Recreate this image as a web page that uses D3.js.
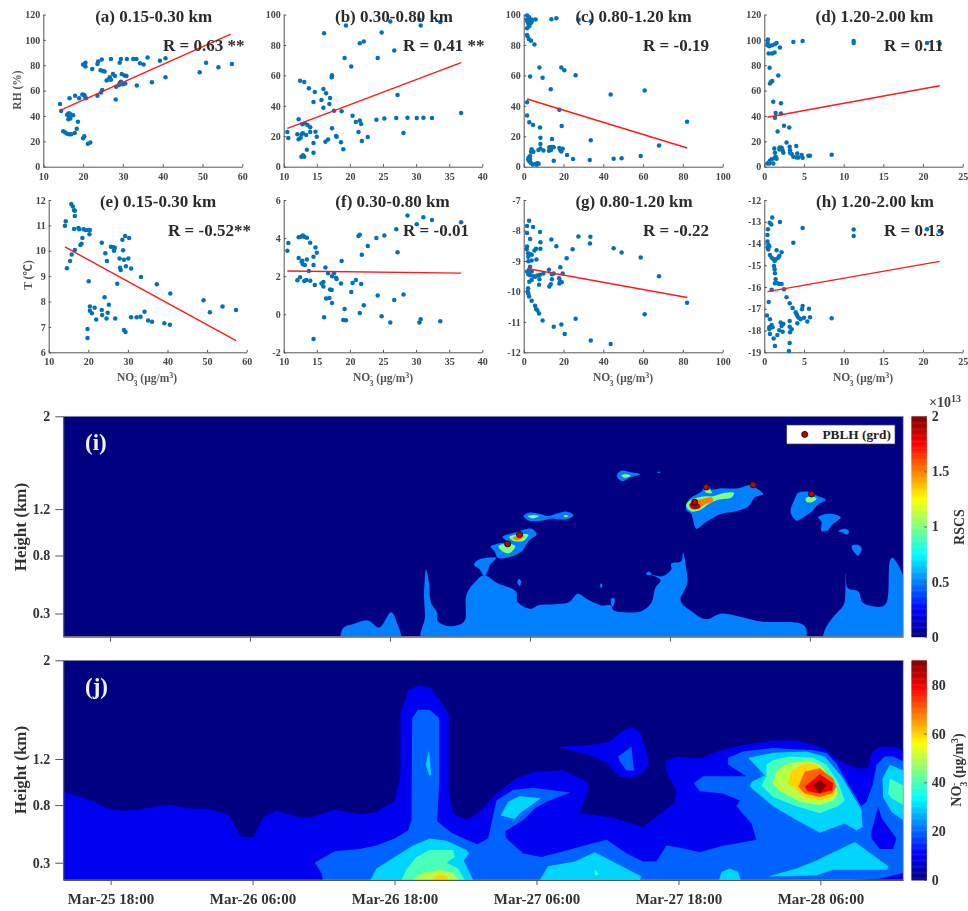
<!DOCTYPE html>
<html>
<head>
<meta charset="utf-8">
<script src="https://cdn.jsdelivr.net/npm/d3@7"></script>
<style>
body { margin: 0; background: #fff; }
svg { display: block; filter: blur(0.5px); }
text { font-family: "Liberation Serif", "Noto Sans CJK SC", serif; font-weight: bold; }
.axis text { font-size: 10px; fill: #444; }
.axis path, .axis line { stroke: #555; stroke-width: 1; }
.big text { font-size: 14px; fill: #333; }
.wide text { font-size: 15px; fill: #333; }
.title { font-size: 17px; fill: #2b2b2b; }
.small-label { font-size: 11.5px; fill: #555; }
</style>
</head>
<body>
<div class="canvas"></div>
<script>
// ---- scatter data: [NO3, value] ----
const pointsA = [[14.2,49.5],[14.5,44],[15,28],[15.5,27],[16,26],[16.5,25.5],[17,25.5],[17.9,26.5],[18.4,30],[18.7,35.5],[16,41],[16.3,42],[16.6,42],[17,41],[17.5,40.5],[16.3,37.5],[16.8,38],[16.5,39.5],[16.6,54],[18,56],[19,54],[19.8,57],[20.3,56.5],[20.5,55],[20.7,54],[20,22.5],[20.3,24],[21.2,18],[21.8,19],[20,80.5],[20.3,80],[20.6,82],[20.6,79],[22.3,77],[23.6,81],[23.8,83],[24.7,84.5],[24.4,76],[25,75.5],[25.4,75],[23.6,56],[24.5,58.5],[24.8,60.5],[25.9,68],[26.4,69],[26.7,70.5],[27,68.5],[27,85],[27.5,73],[28,71.5],[28.2,53],[28.3,63],[29,64.5],[29.2,66],[29.2,82],[29.5,85],[29.5,67],[29.7,73],[30,65],[30.4,72],[30.6,65.5],[30.9,71.5],[31,85],[32.6,85],[33.4,85],[33.5,64],[34.3,81.5],[35.2,80.5],[36.2,86],[37.3,66.5],[39.3,83.5],[40.7,85.5],[40.7,70.5],[49.3,74.5],[50.9,82],[54,78.5],[57.4,81]];
const pointsB = [[10.55,22.8],[10.7,18.9],[12.06,21.3],[12.26,31.1],[12.26,18],[12.47,56.4],[12.57,19],[12.7,21.3],[12.8,27.9],[12.67,6.6],[12.9,21.9],[12.9,7.5],[13.1,55.7],[13.1,6.6],[13.2,28.5],[13.4,20.8],[13.5,11.2],[13.6,27.4],[13.8,51.5],[14,25.9],[14,22.8],[14.5,15.6],[14.5,42.5],[14.5,9.2],[14.7,49],[14.8,23],[15,19.7],[15.7,43.9],[16,51.1],[16,38.8],[16.1,87.7],[16.3,16.4],[16.4,48.2],[16.7,17.8],[16.9,41.2],[17,45.2],[17.25,58.8],[17.3,60.1],[17.3,25.2],[17.6,36.8],[17.9,20.2],[18,19.7],[18.65,16],[18.75,36.4],[19,11.4],[19.2,71.5],[19.4,92.8],[20.2,65.8],[20.4,33.5],[20.9,29.4],[21.3,22.8],[21.5,30.3],[21.5,81.1],[21.7,28],[21.8,16.9],[22.1,82.2],[22.7,19.5],[24,30.9],[24.2,71.5],[24.8,88.2],[25.2,31.6],[26.1,95.4],[26.7,76.3],[27,32],[27.2,47.1],[28.1,22.1],[28.7,32.2],[30.1,32],[30.5,96.5],[30.7,92.8],[31.1,32.2],[32.4,32],[33.65,95],[36.8,35.3]];
const pointsC = [[1.7,99.3],[2.7,98.2],[1.5,96.5],[1.8,95.4],[3.2,96],[4.2,96.5],[4,95.2],[2.3,93.9],[3.5,94.3],[1.7,91],[2.8,92.5],[6,96.7],[13.9,96.9],[16.4,97.6],[27.6,96.5],[33.7,95.6],[1.7,86.6],[2,85.5],[2.7,83.8],[3.7,82.7],[5.4,80.3],[7.9,65.1],[18.9,65.1],[20.4,63.4],[3.2,59.2],[9.5,58.5],[26.1,60.1],[13.6,50.9],[43.7,47.4],[60.8,50],[1.7,42.3],[17.9,37.5],[1.7,33.6],[2.8,29.2],[4.7,27.4],[8.2,25.7],[19.1,26.8],[82.1,29.6],[8.4,19.1],[14.2,18.2],[33.7,17.3],[68,14],[8.4,14.9],[4,11.4],[4.9,9.9],[3.7,9.9],[7.4,11],[8.4,12],[9.9,10.7],[12.7,10.5],[12.9,12.7],[14.2,12.9],[13.7,11],[15.1,12.7],[17.9,12.3],[18.3,11],[18.9,10],[19.6,11.8],[21.8,7.7],[24.8,5],[33.2,4.4],[45.2,5.3],[49.2,5.5],[58.8,7],[15.1,3.9],[3.2,7],[2.5,6.1],[2.3,4.8],[2.8,3.5],[3.5,2.6],[4.5,1.5],[5.9,1.8],[6.9,2.2],[7.5,2],[6.5,1.3],[3.2,4.8]];
const pointsD = [[0.46,100.3],[0.42,97.6],[0.4,95.8],[0.63,95],[0.97,95.8],[1.34,96.6],[1.55,97.6],[0.55,89.2],[0.97,89.2],[1.3,90],[1.97,94],[3.66,98.4],[4.83,99.2],[11.26,99.2],[11.26,97.6],[20.5,97.6],[22.1,97],[0.67,78],[0.88,67],[0.71,65.6],[1,67.5],[1.76,72],[1.13,51.2],[2.1,50],[1.43,42.3],[2.1,42],[1.34,38.6],[2.48,32.3],[3.15,31],[1.68,27.8],[2.8,19],[1.26,14.4],[1.93,15.2],[2.18,15],[3.2,15.7],[4.03,16.3],[1.34,11],[1.9,13.6],[2.3,13],[2.4,11],[3.24,13],[3.24,11],[3.45,10],[4.15,10.5],[4.7,9.2],[5.55,8.7],[5.76,8.7],[8.49,9.4],[3.66,7.9],[4.08,7.3],[4.3,7.3],[4.83,7],[0.38,2.6],[0.59,3.4],[0.71,4.7],[0.92,5.8],[1.13,2.6],[1.26,6.6],[1.55,6.3],[1.43,7.9],[0.63,2.6]];
const pointsE = [[14.1,10.99],[14.3,11.16],[14.6,9.31],[15.4,9.6],[15.7,11.84],[15.8,9.85],[16.1,11.74],[16.4,11.6],[16.6,11.58],[16.6,11.37],[16.4,10.86],[16.6,10.03],[17.5,10.9],[17.7,10.85],[18,10.23],[18.3,10.28],[18.5,10.5],[18.8,10.85],[19.4,10.82],[20.1,10.82],[19.8,6.92],[19.8,6.56],[20.1,8.8],[20.4,10.82],[20.3,10.65],[20.4,7.8],[20.4,7.64],[20.9,7.54],[21.6,7.76],[22,7.29],[23.4,10.32],[23.4,7.67],[23.5,7.47],[24.1,8.17],[24.3,9.9],[24.6,7.33],[24.7,9.6],[24.9,7.56],[25.2,7.87],[25.7,10.16],[26.3,10.14],[26.7,10.12],[26.5,10],[26.8,7.33],[27.3,8.7],[27.9,9.7],[28,9.33],[28.2,9.24],[28.6,10.43],[28.8,10.02],[29,9.65],[29,6.88],[29.3,10.58],[29.4,6.8],[29.5,9.39],[30.1,9.7],[30.3,10.5],[30.8,9.3],[30.8,7.38],[32.2,7.38],[33.2,7.4],[33.3,8.97],[34.2,7.6],[35.1,7.25],[36.1,7.2],[37.3,8.68],[39.2,7.14],[40.6,7.09],[40.7,8.32],[49.1,8.05],[50.7,7.58],[53.9,7.8],[57.3,7.67]];
const pointsF = [[10.55,3.34],[10.7,3.74],[12.06,1.78],[12.26,4.04],[12.26,2.95],[12.47,1.94],[12.57,4.07],[12.7,2.76],[12.9,4.13],[12.8,2.81],[12.9,2.62],[13.1,4.07],[13.1,1.74],[13.2,2.58],[13.4,1.8],[13.5,2.88],[13.5,4.02],[13.8,2.27],[14,3.76],[14,1.76],[14.5,3.02],[14.5,2.58],[14.5,-1.3],[14.7,1.53],[14.8,3.51],[15,3.23],[15.7,1.62],[16,1.69],[16,1.45],[16.1,-0.16],[16.3,2.46],[16.4,0.83],[16.7,2.15],[16.9,0.85],[17,1.3],[17.25,1.27],[17.3,0.59],[17.3,2],[17.6,2.15],[17.9,1.92],[18,1.85],[18.65,1.62],[18.75,2.8],[19,-0.3],[19.2,0.27],[19.4,-0.32],[20.2,1.17],[20.4,1.64],[20.9,1.8],[21.3,4.11],[21.5,4.18],[21.5,0.06],[21.7,1.59],[21.8,3.13],[22.1,0.47],[22.7,3.58],[24,4],[24.2,0.99],[24.8,-0.1],[25.2,4.13],[26.1,-0.43],[26.7,0.75],[27,4.46],[27.2,3.25],[28.1,1.03],[28.7,5.19],[30.1,4.72],[30.5,-0.43],[30.7,-0.27],[31.1,5.09],[32.4,4.95],[33.65,-0.37],[36.8,4.83]];
const pointsG = [[2.7,-7.68],[1.7,-7.85],[4.7,-7.89],[1.7,-8.08],[8.2,-8.05],[3.2,-8.28],[13.9,-8.3],[27.5,-8.2],[33.5,-8.21],[33.3,-8.43],[8.4,-8.39],[1.7,-8.53],[16.4,-8.52],[1.5,-8.62],[6.2,-8.6],[8.4,-8.6],[5.4,-8.66],[24.6,-8.62],[45.2,-8.58],[49.2,-8.72],[2.2,-8.75],[3.2,-8.78],[4,-8.8],[2.3,-8.86],[21.6,-8.91],[58.8,-8.89],[6.4,-8.95],[2.3,-9.01],[4,-8.99],[3.2,-9.19],[18.4,-9.21],[12.7,-9.29],[1.7,-9.35],[2.8,-9.33],[4,-9.35],[2.3,-9.44],[9.9,-9.41],[8.2,-9.45],[6.9,-9.48],[4.9,-9.5],[3.2,-9.47],[5.7,-9.52],[14.2,-9.44],[19.6,-9.41],[15.1,-9.41],[14.2,-9.6],[17.8,-9.57],[7.9,-9.6],[4,-9.63],[2.8,-9.68],[18.3,-9.67],[17.9,-9.74],[19.1,-9.7],[7.7,-9.78],[68,-9.5],[13.6,-9.77],[12.9,-9.84],[2.2,-9.9],[2,-10],[2.3,-10.07],[2.7,-10.17],[4,-10.31],[5.7,-10.47],[6.2,-10.58],[6.9,-10.63],[7.7,-10.73],[9.5,-10.96],[82.1,-10.37],[60.8,-10.75],[26.1,-10.9],[15.1,-11.16],[18.9,-11.09],[20.6,-11.4],[33.7,-11.61],[43.7,-11.73]];
const pointsH = [[1,-12.81],[1.97,-13.01],[0.67,-13.04],[0.88,-13.13],[0.46,-13.35],[4.83,-13.29],[11.26,-13.36],[11.26,-13.65],[20.5,-13.35],[22.1,-13.44],[0.4,-13.61],[0.4,-13.91],[3.66,-13.96],[0.55,-14.07],[0.42,-14.17],[0.63,-14.14],[0.5,-14.27],[1.55,-14.31],[2.18,-14.4],[0.71,-14.53],[0.92,-14.65],[1.13,-14.71],[1.43,-14.73],[1.3,-14.8],[1.89,-14.57],[1.76,-14.65],[1.22,-15.03],[1.3,-15.18],[1.34,-15.37],[1.43,-15.64],[1.34,-15.83],[1.68,-15.83],[1.89,-15.86],[2.18,-15.86],[0.92,-16.13],[2.48,-16.1],[0.55,-16.69],[2.8,-16.47],[3.2,-16.75],[3.57,-16.96],[4.83,-16.87],[4.75,-17.02],[5.63,-17],[3.95,-17.16],[4.08,-17.25],[4.2,-17.36],[0.34,-17.31],[4.37,-17.42],[4.58,-17.48],[5,-17.41],[5.76,-17.39],[8.49,-17.44],[0.71,-17.48],[4.16,-17.67],[5.42,-17.59],[3.2,-17.56],[0.92,-17.74],[2.06,-17.63],[2.4,-17.7],[0.63,-17.85],[1.05,-17.85],[2.18,-17.79],[0.63,-17.94],[1.89,-17.99],[2.31,-18.05],[3.2,-17.82],[3.45,-17.94],[3.24,-18.08],[0.71,-18.16],[1.64,-18.2],[1.18,-18.36],[1.34,-18.71],[3.2,-18.57],[3.1,-18.94]];

// red fit lines, end points
const fitA = [[14.2,44.4],[57.1,104.5]];
const fitB = [[10.55,25.2],[36.8,68.4]];
const fitC = [[1.7,44.5],[82.2,12.3]];
const fitD = [[0.4,39],[22.1,63.8]];
const fitE = [[14.1,10.15],[57.3,6.46]];
const fitF = [[10.55,2.27],[36.8,2.16]];
const fitG = [[1.7,-9.25],[82.2,-10.2]];
const fitH = [[0.4,-16.21],[22.1,-14.82]];

const titles = ['(a) 0.15-0.30 km','(b) 0.30-0.80 km','(c) 0.80-1.20 km','(d) 1.20-2.00 km','(e) 0.15-0.30 km','(f) 0.30-0.80 km','(g) 0.80-1.20 km','(h) 1.20-2.00 km'];
const rLabels = ['R = 0.63 **','R = 0.41 **','R = -0.19','R = 0.11','R = -0.52**','R = -0.01','R = -0.22','R = 0.13'];

// ---- contour outlines, [hours after Mar-25 14:00, height km] ----
const rscs05 = [
  [[23.9,.05],[23.9,.16],[24.2,.19],[24.9,.21],[26.1,.24],[27.1,.18],[28.1,.31],[28.6,.22],[28.9,.05]],
  [[30.8,.05],[31,.27],[30.93,.45],[31.1,.68],[31.36,.56],[31.5,.4],[32.07,.3],[32.07,.24],[33.08,.19],[34.36,.23],[34.56,.46],[35.37,.58],[36.08,.63],[37.23,.56],[38.8,.49],[38.95,.4],[40.09,.34],[40.66,.37],[42.1,.38],[43.38,.4],[44.1,.47],[44.96,.42],[46.1,.37],[46.96,.37],[47.14,.33],[48.11,.31],[49.54,.32],[50.4,.39],[50.75,.52],[51.2,.59],[49.97,.65],[51.26,.62],[52.12,.68],[52.12,.73],[52.98,.75],[53.12,.83],[53.41,.68],[53.49,.56],[52.92,.41],[53.84,.32],[55.12,.25],[56.41,.3],[58.13,.27],[59.85,.23],[63,.22],[63.57,.19],[63.72,.14],[63.49,.05]],
  [[65.2,.05],[65.29,.16],[66,.27],[66.87,.37],[67.01,.42],[67.07,.65],[67.24,.52],[68.15,.49],[68.58,.39],[70.16,.36],[70.59,.4],[70.87,.76],[71.07,.78],[72.3,.54],[72.3,.05]],
  [[35.2,.72],[35.5,.76],[37.1,.78],[36.6,.72],[36.2,.63],[36,.63],[35.7,.68]],
  [[36.65,.88],[37.17,.9],[37.97,.92],[37.66,.96],[38.8,1],[40.15,1.03],[40.58,.98],[39.95,.93],[39.23,.83],[38.37,.79],[37.23,.78],[37,.83]],
  [[39.46,1.14],[39.95,1.17],[40.81,1.16],[41.52,1.14],[42.24,1.16],[43.1,1.18],[43.73,1.15],[43.38,1.12],[42.53,1.11],[41.95,1.12],[40.95,1.1],[39.95,1.1]],
  [[47.45,1.49],[47.82,1.53],[48.54,1.52],[49.46,1.5],[48.54,1.47],[47.97,1.44],[47.6,1.46]],
  [[39.09,.6],[39.26,.57],[39.09,.54],[38.92,.57]],
  [[46.1,.56],[46.22,.54],[46.1,.52],[46.02,.54]],
  [[49.97,.65],[50.26,.66],[50.4,.64],[50.12,.63]],
  [[50.91,1.52],[51.2,1.52],[51.03,1.51]],
  [[46.96,.43],[47.25,.43],[47.14,.36],[47.05,.36]],
  [[53.41,1.24],[53.69,1.29],[54.55,1.34],[54.78,1.36],[54.9,1.41],[55.41,1.4],[55.55,1.37],[56.41,1.38],[57.84,1.38],[58.99,1.41],[59.42,1.38],[59.99,1.33],[59.28,1.3],[58.7,1.22],[57.56,1.18],[56.41,1.16],[55.12,1.09],[54.27,1.03],[53.98,1.11],[53.84,1.16],[53.41,1.19]],
  [[62.34,1.19],[62.71,1.29],[63,1.34],[63.86,1.35],[64.72,1.31],[65.35,1.28],[64.72,1.24],[64.15,1.18],[63.29,1.12],[62.86,1.1],[62.43,1.15]],
  [[64.72,1.13],[65.58,1.16],[66.64,1.13],[65.86,1.06],[65.58,1.02],[65,1.01],[65,1.09]],
  [[66.44,1.01],[67.01,1.03],[67.35,1.01],[67.21,.98],[66.72,1]],
  [[67.58,.88],[68.15,.89],[68.44,.86],[68.15,.8],[67.87,.82]]
];
const rscs10 = [
  [[37.31,.88],[37.8,.9],[38.37,.9],[38.75,.88],[38.23,.82],[37.74,.83]],
  [[38.23,.96],[38.95,.98],[39.86,.98],[39.52,.93],[38.95,.92],[38.52,.93]],
  [[39.81,1.14],[40.23,1.15],[40.81,1.14],[40.23,1.12]],
  [[42.87,1.14],[43.1,1.15],[43.3,1.14],[43.1,1.13]],
  [[47.82,1.49],[48.17,1.5],[48.62,1.49],[48.17,1.47]],
  [[53.41,1.24],[53.84,1.28],[54.98,1.31],[55.7,1.31],[56.7,1.34],[57.5,1.34],[57.27,1.3],[56.13,1.28],[55.27,1.24],[54.55,1.19],[53.84,1.18],[53.49,1.21]],
  [[54.98,1.37],[55.41,1.37],[55.61,1.34],[55.12,1.34]],
  [[63.63,1.29],[64.09,1.31],[64.57,1.29],[64.15,1.26],[63.77,1.26]]
];
const rscs15 = [
  [[38.52,.95],[38.95,.97],[39.52,.97],[39.37,.95],[38.95,.93]],
  [[53.64,1.24],[53.98,1.27],[54.84,1.29],[55.61,1.3],[55.7,1.27],[54.98,1.24],[54.41,1.2],[53.84,1.2]]
];
const rscs19 = [
  [[53.69,1.24],[53.98,1.26],[54.41,1.25],[54.64,1.22],[54.27,1.2],[53.84,1.21]]
];
const pblhHours = [38.09,39.11,54.12,55.12,59.13,64.14];
const pblhHeight = [.9,.98,1.26,1.39,1.41,1.33];

const no10 = [
  [[0,.92],[1.39,.87],[2.8,.82],[3.93,.76],[5.06,.75],[6.46,.76],[7.87,.79],[9,.8],[10.69,.77],[12.1,.77],[13.23,.74],[14.07,.7],[14.97,.53],[16.04,.52],[16.89,.69],[18,.75],[20,.69],[20.83,.69],[22.95,.76],[25.06,.72],[26.47,.74],[28.02,.84],[28.5,1.05],[28.5,1.57],[29.15,1.76],[30.13,1.8],[31.12,1.77],[31.82,1.68],[32.58,1.56],[32.58,.93],[32.95,.73],[34.08,.67],[35.06,.73],[36.62,.9],[38.31,1.03],[39.86,1.09],[42.25,1.1],[44.37,1],[44.23,.9],[43.66,.73],[46.48,.69],[49.02,.61],[51.69,.82],[51.83,.92],[50.99,1.08],[50.93,1.18],[51.83,1.22],[52.96,1.21],[54.09,1.21],[54.93,1.25],[57.19,1.31],[60.01,1.35],[61.98,1.35],[64.23,1.29],[65.64,1.18],[67.05,1.12],[68.04,1.12],[68.32,1.25],[69.02,1.3],[70.15,1.3],[71,1.27],[71,.15],[0,.15]],
  [[41.75,1.3],[44.23,1.31],[46.2,1.34],[47.18,1.42],[48.03,1.46],[48.73,1.42],[49.3,1.27],[49.52,1.16],[49.02,1.08],[48.03,1.03],[46.9,1.05],[46.06,1.16],[44.51,1.23]]
];
const no20 = [
  [[21.96,.15],[21.82,.21],[21.26,.3],[22.1,.35],[22.95,.4],[25.06,.42],[26.47,.45],[28.02,.51],[29.15,.58],[29.43,.67],[29.49,1.49],[29.49,1.53],[29.99,1.6],[30.98,1.6],[31.77,1.53],[31.77,.99],[31.6,.66],[32.81,.56],[34.08,.5],[34.98,.46],[35.91,.51],[36.62,.84],[38.03,.93],[39.72,.95],[42.82,.91],[40.85,.83],[39.86,.77],[38.87,.67],[37.32,.57],[37.46,.51],[38.87,.38],[40.42,.35],[43.38,.43],[45.92,.5],[47.61,.38],[49.02,.31],[50.14,.31],[50.99,.45],[52.12,.43],[53.81,.39],[55.5,.44],[58.6,.5],[58.17,.64],[56.91,.79],[57.19,.84],[55.78,.9],[53.81,.92],[53.3,.99],[54.09,1.05],[57.75,1.05],[56.2,1.15],[56.2,1.21],[57.47,1.26],[60,1.29],[63.39,1.27],[64.51,1.25],[65.36,1.16],[66.06,1.03],[67.47,.79],[67.9,.83],[68.46,.99],[68.74,1.15],[69.44,1.22],[70.15,1.22],[71,1.18],[71,.21],[69.02,.16],[66.2,.15]],
  [[46.9,1.22],[48.03,1.3],[48.17,1.16],[48.26,1.1],[47.61,1.1],[47.04,1.18]]
];
const no10Patch = [
  [[68.32,.57],[68.88,.79],[69.16,.69],[70.43,.51],[70.15,.42],[69.02,.42],[68.32,.51]]
];
const no30 = [
  [[25.96,.15],[26.47,.25],[27.88,.34],[29.57,.45],[30.98,.51],[32.39,.49],[34.08,.41],[34.3,.38],[33.85,.32],[34.64,.15]],
  [[30.64,1.15],[30.92,1.27],[31.09,1.06],[30.92,1.06]],
  [[36.96,.71],[37.61,.83],[38.59,.88],[40.37,.86],[38.59,.73],[38.17,.68]],
  [[40.28,.15],[40.99,.27],[43.24,.31],[44.93,.39],[48.88,.18],[48.73,.15]],
  [[55.44,.15],[55.64,.22],[56.34,.25],[57.05,.22],[57.27,.15]],
  [[59.58,.18],[61.98,.25],[63.67,.32],[66.91,.48],[69.73,.27],[69.65,.24],[65.08,.24],[63.67,.19]],
  [[57.89,1.21],[60,1.25],[62.82,1.26],[64.37,1.22],[65.78,1.05],[67.47,.76],[67.56,.61],[67.05,.58],[66.06,.64],[63.95,.56],[61.98,.67],[60,.79],[58.03,.96],[58.17,1],[59.3,1.06]],
  [[71,1.1],[69.87,1.15],[69.25,1.03],[69.3,.87],[70.01,.74],[71,.67]]
];
const no40 = [
  [[28.58,.15],[29,.24],[29.85,.35],[30.98,.41],[32.95,.41],[33.09,.35],[32.39,.3],[33.37,.25],[33.94,.15]],
  [[71,.97],[69.87,1.03],[69.73,.9],[70.01,.86],[71,.8]],
  [[44.93,.24],[45.3,.2],[44.93,.19]],
  [[59.44,1.05],[59.44,1.15],[60,1.19],[61.41,1.22],[63.39,1.21],[64.51,1.15],[65.5,1],[66.06,.84],[65.5,.79],[63.95,.73],[61.98,.79],[60,.87],[59.02,.97]]
];
const no50 = [
  [[29.51,.15],[30.41,.21],[31.82,.24],[32.95,.21],[33.46,.15]],
  [[59.95,.99],[60.29,1.09],[60.99,1.15],[62.82,1.19],[63.95,1.15],[64.94,1.03],[65.5,.9],[65.08,.84],[63.95,.8],[62.26,.83],[60.57,.92]]
];
const no60 = [
  [[31.12,.15],[31.68,.2],[32.39,.19],[32.53,.15]],
  [[61.27,.99],[61.56,1.1],[62.68,1.16],[63.67,1.15],[64.65,1.06],[65.36,.93],[65.08,.87],[63.95,.84],[62.68,.87]]
];
const no70 = [[[62.12,.96],[62.68,1.09],[63.95,1.12],[65.08,1.03],[65.36,.96],[64.94,.9],[63.95,.87],[62.68,.9]]];
const no80 = [[[62.68,.96],[63.95,1.07],[65.08,.99],[65.02,.93],[63.95,.9],[62.96,.92]]];
const no88 = [[[63.39,.97],[63.95,1.02],[64.51,.97],[63.95,.9]]];

const heightTicks = [0.3,0.8,1.2,2];
const rscsTicks = [0,0.5,1,1.5,2];
const noTicks = [0,20,40,60,80];
const tickDates = ['2019-03-25T18:00Z','2019-03-26T06:00Z','2019-03-26T18:00Z','2019-03-27T06:00Z','2019-03-27T18:00Z','2019-03-28T06:00Z'].map(d => new Date(d));
const startDate = new Date('2019-03-25T14:00Z');

// ---- page ----
const svg = d3.select('.canvas').append('svg')
    .attr('width',968)
    .attr('height',911);

const BLUE = '#0072bd';
const RED = '#ff1a1a';

// matlab jet
const jet = (t) => {
  const c = v => Math.round(255 * Math.max(0, Math.min(1, v)));
  return `rgb(${c(Math.min(4*t-1.5,-4*t+4.5))},${c(Math.min(4*t-0.5,-4*t+3.5))},${c(Math.min(4*t+0.5,-4*t+2.5))})`;
};
const toDate = h => new Date(+startDate + h * 3600000);

// NO3- (ug/m3) with stacked sub and superscript
const no3Label = (sel) => {
  sel.append('tspan').text('NO');
  sel.append('tspan').attr('font-size','0.62em').attr('dy','-0.42em').text('-');
  sel.append('tspan').attr('font-size','0.7em').attr('dx','-0.38em').attr('dy','0.95em').text('3');
  sel.append('tspan').attr('dy','-0.28em').text(' (μg/m');
  sel.append('tspan').attr('font-size','0.7em').attr('dy','-0.5em').text('3');
  sel.append('tspan').attr('dy','0.35em').text(')');
};

// ---- scatter panels ----
const colX = [[283.7,482.3],[523.7,722.7],[764.3,962.7]];
const scatterPanels = [
  {points:pointsA, fit:fitA, xd:[10,60], xt:d3.range(10,61,10), yd:[0,120], yt:d3.range(0,121,20), xr:[43.3,242.3], yr:[166.7,14.5], tx:153.7, ty:22, rx:163, ry:51},
  {points:pointsB, fit:fitB, xd:[10,40], xt:d3.range(10,41,5), yd:[0,100], yt:d3.range(0,101,20), xr:colX[0], yr:[166.7,14.5], tx:394, ty:22, rx:403, ry:51},
  {points:pointsC, fit:fitC, xd:[0,100], xt:d3.range(0,101,20), yd:[0,100], yt:d3.range(0,101,20), xr:colX[1], yr:[166.7,14.5], tx:633.5, ty:22, rx:643, ry:51},
  {points:pointsD, fit:fitD, xd:[0,25], xt:d3.range(0,26,5), yd:[0,120], yt:d3.range(0,121,20), xr:colX[2], yr:[166.7,14.5], tx:874.5, ty:22, rx:884, ry:51},
  {points:pointsE, fit:fitE, xd:[10,60], xt:d3.range(10,61,10), yd:[6,12], yt:d3.range(6,13,1), xr:[48.7,246.7], yr:[352.3,200], tx:158, ty:207, rx:168, ry:236},
  {points:pointsF, fit:fitF, xd:[10,40], xt:d3.range(10,41,5), yd:[-2,6], yt:d3.range(-2,7,2), xr:colX[0], yr:[352.3,200], tx:392.5, ty:207, rx:403, ry:236},
  {points:pointsG, fit:fitG, xd:[0,100], xt:d3.range(0,101,20), yd:[-12,-7], yt:d3.range(-12,-6,1), xr:colX[1], yr:[352.3,200], tx:634, ty:207, rx:643, ry:236},
  {points:pointsH, fit:fitH, xd:[0,25], xt:d3.range(0,26,5), yd:[-19,-12], yt:d3.range(-19,-11,1), xr:colX[2], yr:[352.3,200], tx:875, ty:207, rx:884, ry:236}
];

scatterPanels.forEach((p,i) => {
  const x = d3.scaleLinear().domain(p.xd).range(p.xr);
  const y = d3.scaleLinear().domain(p.yd).range(p.yr);
  const g = svg.append('g');

  g.append('g').attr('class','axis')
      .attr('transform',`translate(0,${p.yr[0]})`)
      .call(d3.axisBottom(x).tickValues(p.xt).tickSize(-2.5).tickSizeOuter(0).tickPadding(6).tickFormat(d => String(d)));
  g.append('g').attr('class','axis')
      .attr('transform',`translate(${p.xr[0]},0)`)
      .call(d3.axisLeft(y).tickValues(p.yt).tickSize(-2.5).tickSizeOuter(0).tickPadding(3).tickFormat(d => String(d)));

  g.selectAll('circle').data(p.points).join('circle')
      .attr('cx',d => x(d[0]))
      .attr('cy',d => y(d[1]))
      .attr('r',2.25)
      .attr('fill',BLUE);

  g.append('path')
      .attr('d',d3.line().x(d => x(d[0])).y(d => y(d[1]))(p.fit))
      .attr('stroke',RED)
      .attr('stroke-width',1.4)
      .attr('fill','none');

  g.append('text').attr('class','title').attr('x',p.tx).attr('y',p.ty).attr('text-anchor','middle').text(titles[i]);
  g.append('text').attr('class','title').attr('x',p.rx).attr('y',p.ry).text(rLabels[i]);
});

svg.append('text').attr('class','small-label').attr('transform','translate(21,90) rotate(-90)').attr('text-anchor','middle').text('RH (%)');
svg.append('text').attr('class','small-label').attr('transform','translate(32,275) rotate(-90)').attr('text-anchor','middle').text('T (℃)');
[147,383,623,863].forEach(cx => {
  svg.append('text').attr('class','small-label').attr('x',cx).attr('y',381).attr('text-anchor','middle').call(no3Label);
});

// ---- contour panels ----
const drawContour = (o) => {
  const g = svg.append('g');
  const x = d3.scaleUtc().domain([startDate,toDate(o.hours)]).range([63.3,903.2]);
  const y = d3.scaleLinear().domain(o.yd).range(o.yr);
  const w = 903.2 - 63.3;
  const top = o.yr[o.yr.length-1], bottom = o.yr[0];

  g.append('clipPath').attr('id',o.id).append('rect').attr('x',63.3).attr('y',top).attr('width',w).attr('height',bottom-top);
  g.append('rect').attr('x',63.3).attr('y',top).attr('width',w).attr('height',bottom-top).attr('fill',jet(0));

  const shape = d3.line().x(d => x(toDate(d[0]))).y(d => y(d[1])).curve(o.curve);
  const bands = g.append('g').attr('clip-path',`url(#${o.id})`);
  o.bands.forEach(b => {
    bands.append('g').selectAll('path').data(b.rings).join('path')
        .attr('d',shape)
        .attr('fill',jet(b.level / o.max));
  });

  // thin frame, then the axes over it
  g.append('rect').attr('x',63.3).attr('y',top).attr('width',w).attr('height',bottom-top)
      .attr('fill','none').attr('stroke','#9a9ab0').attr('stroke-width',0.7);

  const xAxis = g.append('g').attr('class','axis wide')
      .attr('transform',`translate(0,${bottom})`)
      .call(d3.axisBottom(x).tickValues(tickDates).tickSize(5).tickSizeOuter(0).tickPadding(8.5).tickFormat(d3.utcFormat('%b-%d %H:%M')));
  if (!o.xLabels) xAxis.selectAll('text').remove();

  g.append('g').attr('class','axis big')
      .attr('transform','translate(63.3,0)')
      .call(d3.axisLeft(y).tickValues(heightTicks).tickSize(8).tickSizeOuter(0).tickPadding(5).tickFormat(d => String(d)))
      .call(s => s.select('.domain').attr('stroke','#888'));

  g.append('text').attr('transform',`translate(26,${o.labelY}) rotate(-90)`).attr('text-anchor','middle')
      .attr('font-size',17).attr('fill','#333').text('Height (km)');
  g.append('text').attr('x',85).attr('y',o.tagY).attr('font-size',23).attr('fill','#f2f2f2').text(o.tag);

  // colour bar
  const c = d3.scaleLinear().domain([0,o.max]).range([bottom,top]);
  const steps = d3.range(0,256);
  g.append('g').selectAll('rect').data(steps).join('rect')
      .attr('x',911.5)
      .attr('width',15.3)
      .attr('y',d => c((d+1)/256*o.max))
      .attr('height',d => c(d/256*o.max) - c((d+1)/256*o.max) + 0.5)
      .attr('fill',d => jet((d+0.5)/256));
  g.append('g').attr('class','axis big')
      .attr('transform','translate(926.8,0)')
      .call(d3.axisRight(c).tickValues(o.barTicks).tickSize(-2.5).tickSizeOuter(0).tickPadding(5).tickFormat(d => String(d)))
      .call(s => s.select('.domain').remove());
  return {g,x,y};
};

const panelI = drawContour({
  id:'clipI', hours:72, yd:[0.1,2], yr:[636.7,416.3], max:2, curve:d3.curveCatmullRomClosed.alpha(0.5),
  bands:[{level:0.5,rings:rscs05},{level:1,rings:rscs10},{level:1.5,rings:rscs15},{level:1.9,rings:rscs19}],
  xLabels:false, labelY:527, tag:'(i)', tagY:450, barTicks:rscsTicks
});

const panelJ = drawContour({
  id:'clipJ', hours:71, yd:[0.15,1.2,2], yr:[880,759,660.3], max:90, curve:d3.curveLinearClosed,
  bands:[{level:10,rings:no10},{level:20,rings:no20},{level:10,rings:no10Patch},{level:30,rings:no30},{level:40,rings:no40},{level:50,rings:no50},{level:60,rings:no60},{level:70,rings:no70},{level:80,rings:no80},{level:90,rings:no88}],
  xLabels:true, labelY:770, tag:'(j)', tagY:694, barTicks:noTicks
});

// PBLH markers and legend on panel i
panelI.g.append('g').selectAll('circle').data(pblhHours).join('circle')
    .attr('cx',d => panelI.x(toDate(d)))
    .attr('cy',(d,i) => panelI.y(pblhHeight[i]))
    .attr('r',3)
    .attr('fill','#c40000')
    .attr('stroke','#111')
    .attr('stroke-width',1);

panelI.g.append('rect').attr('x',786.7).attr('y',425).attr('width',108.3).attr('height',19)
    .attr('fill','#fff').attr('stroke','#444').attr('stroke-width',0.7);
panelI.g.append('circle').attr('cx',804.7).attr('cy',434.4).attr('r',3)
    .attr('fill','#c40000').attr('stroke','#111').attr('stroke-width',1);
panelI.g.append('text').attr('x',822.5).attr('y',438.8).attr('font-size',13.3).attr('fill','#222').text('PBLH (grd)');

// colour bar labels
svg.append('text').attr('transform','translate(964,527) rotate(-90)').attr('text-anchor','middle')
    .attr('font-size',14).attr('fill','#333').text('RSCS');
const mult = svg.append('text').attr('x',929).attr('y',407).attr('font-size',14).attr('fill','#444');
mult.append('tspan').text('×10');
mult.append('tspan').attr('font-size',10).attr('dy',-5).text('13');
svg.append('text').attr('transform','translate(961,770) rotate(-90)').attr('text-anchor','middle')
    .attr('font-size',14).attr('fill','#333').call(no3Label);
</script>
</body>
</html>
